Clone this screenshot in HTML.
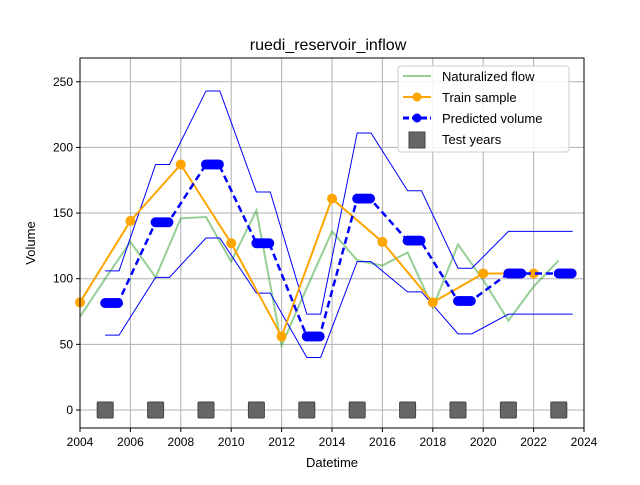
<!DOCTYPE html>
<html><head><meta charset="utf-8"><style>
body{margin:0;background:#fff}
svg{font-family:"Liberation Sans","DejaVu Sans",sans-serif}
</style></head><body>
<svg id="c" width="640" height="480" xmlns="http://www.w3.org/2000/svg">
<rect width="640" height="480" fill="#fff"/>
<text x="328" y="50" font-size="16" text-anchor="middle">ruedi_reservoir_inflow</text>
<g id="grid"></g>
<g id="plot"></g>
<rect x="80" y="58" width="504" height="370" fill="none" stroke="#000" stroke-width="1"/>
<g id="axes"></g>
<text x="332" y="467" font-size="13" text-anchor="middle">Datetime</text>
<text x="35" y="243" font-size="13" text-anchor="middle" transform="rotate(-90 35 243)">Volume</text>
<g>
<rect x="398" y="66" width="171" height="86" rx="3" fill="#fff" fill-opacity="0.85" stroke="#ccc"/>
<line x1="403" y1="76" x2="431" y2="76" stroke="#2ca02c" stroke-opacity="0.5" stroke-width="2"/>
<text x="442" y="81" font-size="13">Naturalized flow</text>
<line x1="403" y1="97" x2="431" y2="97" stroke="orange" stroke-width="2"/><circle cx="417" cy="97" r="4.5" fill="orange"/>
<text x="442" y="102" font-size="13">Train sample</text>
<line x1="403" y1="118" x2="431" y2="118" stroke="blue" stroke-width="3" stroke-dasharray="6,3"/><circle cx="417" cy="118" r="4.5" fill="blue"/>
<text x="442" y="123" font-size="13">Predicted volume</text>
<rect x="409" y="132" width="16" height="16" fill="#666" stroke="#444"/>
<text x="442" y="144" font-size="13">Test years</text>
</g>
</svg>
<script>
const natYears=[2004,2005,2006,2007,2008,2009,2010,2011,2012,2013,2014,2015,2016,2017,2018,2019,2020,2021,2022,2023];
const natVals=[71,100,128,101,146,147,113,152,49,93,136,114,110,120,78,126,99,68,94,114];
const trainYears=[2004,2006,2008,2010,2012,2014,2016,2018,2020,2022];
const trainVals=[82,144,187,127,56,161,128,82,104,104];
const testYears=[2005,2007,2009,2011,2013,2015,2017,2019,2021,2023];
const predVals=[81.5,143,187,127,56,161,129,83,104,104];
const upperVals=[106,187,243,166,73,211,167,108,136,136];
const lowerVals=[57,101,131,89,40,113,90,58,73,73];
const xTicks=[2004,2006,2008,2010,2012,2014,2016,2018,2020,2022,2024];
const yTicks=[0,50,100,150,200,250];
const X=v=>80+(v-2004)*25.2;
const Y=v=>410-v*1.313;
const NS="http://www.w3.org/2000/svg";
function mk(p,t,a){const e=document.createElementNS(NS,t);for(const k in a)e.setAttribute(k,a[k]);p.appendChild(e);return e;}
const grid=document.getElementById('grid'),plot=document.getElementById('plot'),axes=document.getElementById('axes');
xTicks.forEach(t=>{
 const g=mk(grid,'line',{x1:X(t),x2:X(t),y1:58,y2:428,stroke:'#b0b0b0','stroke-width':1});
 
 
 mk(axes,'line',{x1:X(t),x2:X(t),y1:428,y2:432,stroke:'#000'});
 const l=mk(axes,'text',{x:X(t),y:446,'font-size':12,'text-anchor':'middle'});l.textContent=t;
 
 
});
yTicks.forEach(t=>{
 const g=mk(grid,'line',{x1:80,x2:584,y1:Y(t),y2:Y(t),stroke:'#b0b0b0','stroke-width':1});
 
 
 mk(axes,'line',{x1:76,x2:80,y1:Y(t),y2:Y(t),stroke:'#000'});
 const l=mk(axes,'text',{x:73,y:Y(t)+4,'font-size':12,'text-anchor':'end'});l.textContent=t;
 
 
});
// naturalized
const nat=mk(plot,'polyline',{points:natYears.map((y,i)=>X(y)+','+Y(natVals[i])).join(' '),fill:'none',stroke:'#2ca02c','stroke-opacity':0.5,'stroke-width':2});


// bounds
function bandPts(vals){const p=[];testYears.forEach((y,i)=>{p.push(X(y)+','+Y(vals[i]));p.push(X(y+0.55)+','+Y(vals[i]));});return p.join(' ');}
const up=mk(plot,'polyline',{points:bandPts(upperVals),fill:'none',stroke:'blue','stroke-width':1});


const lo=mk(plot,'polyline',{points:bandPts(lowerVals),fill:'none',stroke:'blue','stroke-width':1});


// train
const tr=mk(plot,'polyline',{points:trainYears.map((y,i)=>X(y)+','+Y(trainVals[i])).join(' '),fill:'none',stroke:'orange','stroke-width':2});


trainYears.forEach((y,i)=>{const c=mk(plot,'circle',{cx:X(y),cy:Y(trainVals[i]),r:5,fill:'orange'});
 
 });
// predicted
const pp=[];testYears.forEach((y,i)=>{for(let k=0;k<=6;k++)pp.push([X(y+k*0.085),Y(predVals[i])]);});
const pl=mk(plot,'polyline',{points:pp.map(p=>p.join(',')).join(' '),fill:'none',stroke:'blue','stroke-width':2.5,'stroke-dasharray':'7,4'});


pp.forEach(p=>{const c=mk(plot,'circle',{cx:p[0],cy:p[1],r:5,fill:'blue'});
 
 });
// test years
testYears.forEach(y=>{const r=mk(plot,'rect',{x:X(y)-8,y:Y(0)-8,width:16,height:16,rx:1,fill:'#666',stroke:'#444'});
 
 });
</script>
</body></html>
